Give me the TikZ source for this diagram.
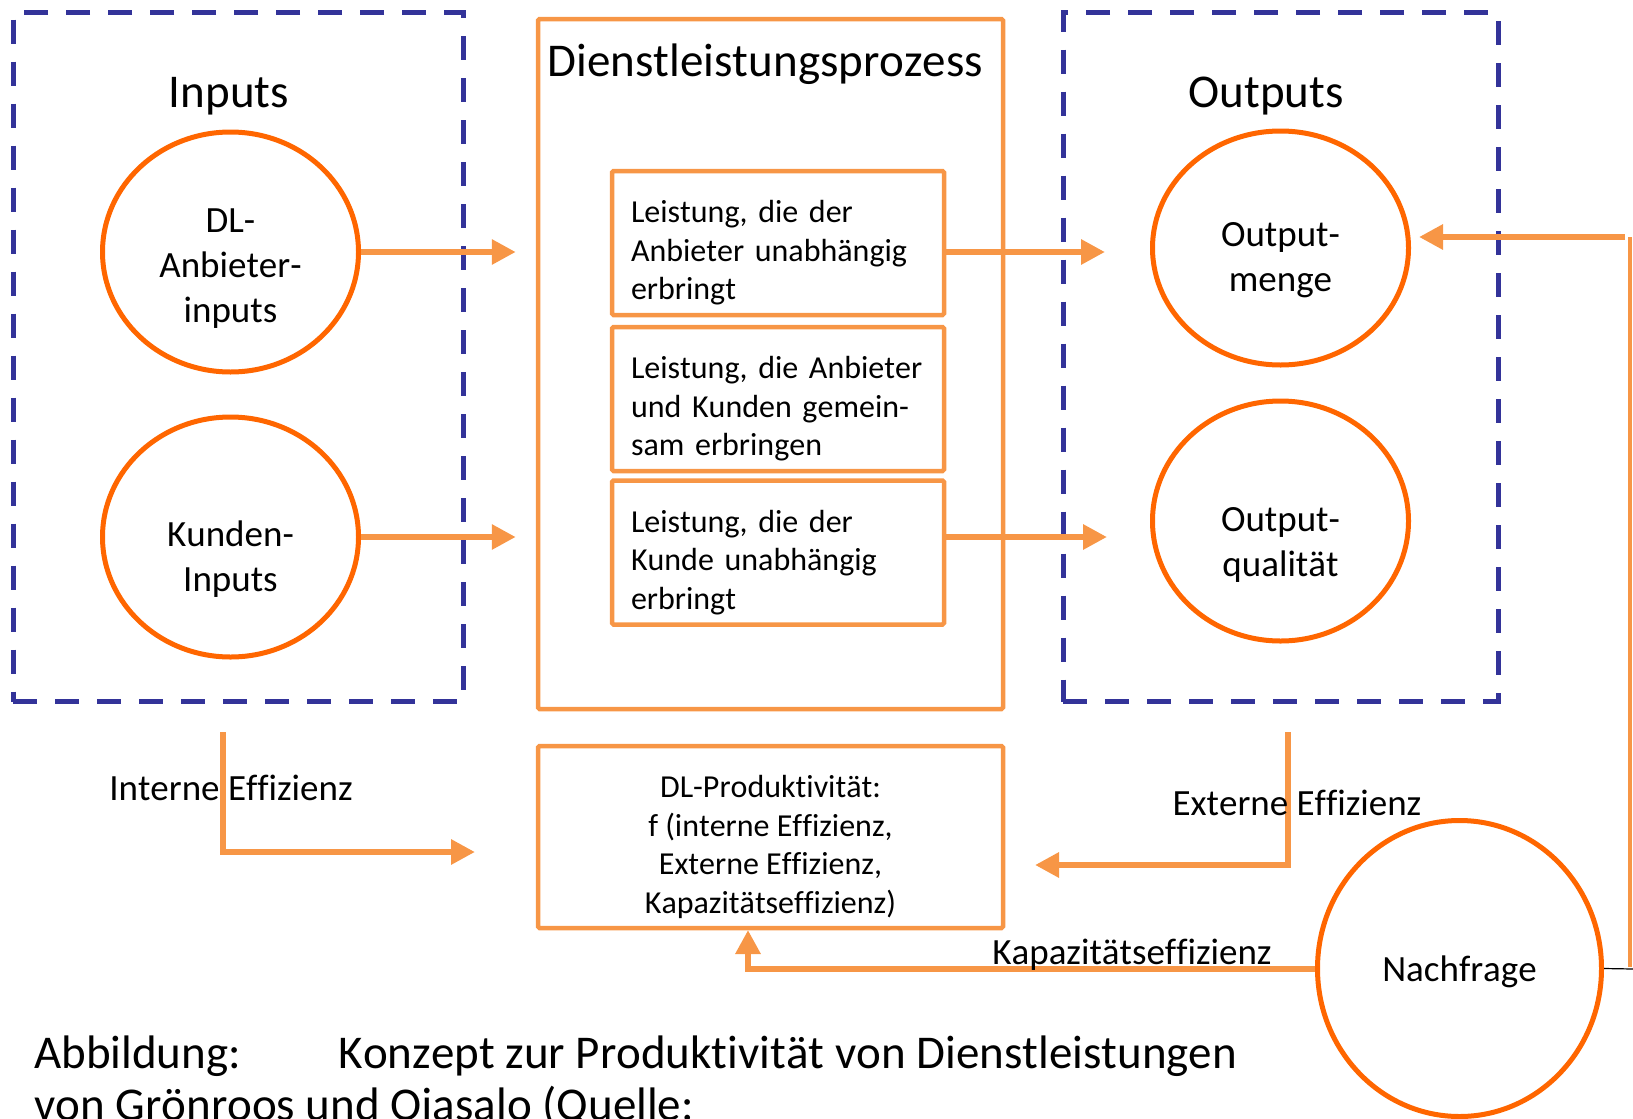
\documentclass[tikz,border=0pt]{standalone}
\usepackage{fontspec}
\setmainfont{Carlito}[Ligatures=NoCommon, Kerning=Off]
\frenchspacing
\usetikzlibrary{shapes.geometric,arrows.meta}
\definecolor{kreisorange}{RGB}{255,102,0}
\definecolor{rahmenorange}{RGB}{247,150,70}
\definecolor{gruppenblau}{RGB}{51,51,153}
\begin{document}
\begin{tikzpicture}[x=1pt,y=-1pt,
    gruppe/.style={draw=gruppenblau, line width=5pt, dash pattern=on 24pt off 18pt, inner sep=0pt, minimum height=689pt},
    kreis/.style={ellipse, draw=kreisorange, line width=5pt, minimum width=256pt, minimum height=240pt, inner sep=0pt},
    kreistext/.style={font=\fontsize{37}{45}\selectfont, align=center, inner sep=0pt},
    kasten/.style={draw=rahmenorange, line width=4.5pt, inner sep=0pt, rounded corners=1.5pt},
    leistung/.style={kasten, minimum width=332pt, minimum height=144pt},
    leistungstext/.style={font=\fontsize{32}{38.5}\selectfont, text width=294pt, align=left, inner sep=0pt},
    titel/.style={font=\fontsize{47}{57}\selectfont, anchor=base, inner sep=0pt},
    beschriftung/.style={font=\fontsize{37}{45}\selectfont, anchor=base, inner sep=0pt},
    pfeil/.style={draw=rahmenorange, line width=6pt, -{Triangle[length=24pt,width=24pt]}}]
  \useasboundingbox (0,0) rectangle (1633,1119);
  \node[gruppe, minimum width=450pt] (inputs) at (238,357) {};
  \node[gruppe, minimum width=435pt] (outputs) at (1280.5,357) {};
  \node[kasten, minimum width=465pt, minimum height=690pt] (prozess) at (770.5,364) {};
  \node[titel] (inputstitel) at (229,107) {Inputs};
  \node[titel] (prozesstitel) at (765.5,76) {Dienstleistungsprozess};
  \node[titel] (outputstitel) at (1266,107) {Outputs};
  \node[kreis, label={[kreistext,yshift=-17pt]center:{DL-\\Anbieter-\\inputs}}] (dl) at (230.5,252) {};
  \node[kreis, label={[kreistext,yshift=-22pt]center:{Kunden-\\Inputs}}] (kunden) at (230.5,537) {};
  \node[kreis, minimum height=234pt, label={[kreistext,yshift=-12pt]center:{Output-\\menge}}] (menge) at (1280.5,248) {};
  \node[kreis, label={[kreistext,yshift=-24pt]center:{Output-\\qualität}}] (qualitaet) at (1280.5,521) {};
  \node[leistung, label={[leistungstext,yshift=-10pt]center:{Leistung, die der\\Anbieter unabhängig\\erbringt}}] (box1) at (778,243) {};
  \node[leistung, label={[leistungstext,yshift=-10pt]center:{Leistung, die Anbieter\\und Kunden gemein-\\sam erbringen}}] (box2) at (778,399) {};
  \node[leistung, label={[leistungstext,yshift=-10pt]center:{Leistung, die der\\Kunde unabhängig\\erbringt}}] (box3) at (778,552.5) {};
  \node[kasten, minimum width=465pt, minimum height=182pt,
    label={[align=center, inner sep=0pt, font=\fontsize{32}{38.5}\selectfont, yshift=-10pt]center:{DL-Produktivität:\\f (interne Effizienz,\\Externe Effizienz,\\Kapazitätseffizienz)}}] (prod) at (770.5,837) {};
  \node[kreis, minimum width=284pt, minimum height=296pt,
    label={[kreistext,yshift=-3pt]center:Nachfrage}] (nachfrage) at (1459.5,968.5) {};

  \draw[pfeil, shorten >=20pt] (dl.east) -- (dl.east -| prozess.west);
  \draw[pfeil, shorten >=20pt] (kunden.east) -- (kunden.east -| prozess.west);
  \draw[pfeil, shorten >=45pt] (box1.east |- dl.east) -- (menge.west |- dl.east);
  \draw[pfeil, shorten >=43pt] (box3.east |- kunden.east) -- (qualitaet.west |- kunden.east);

  \coordinate (intstart) at (222.5,732);
  \coordinate (intende) at (475,852);
  \coordinate (extstart) at (1288,732);
  \coordinate (extende) at (1035,865);
  \coordinate (kapende) at (748,930);
  \coordinate (rechtsunten) at (1630,967);
  \coordinate (rechtsoben) at (1630,237);
  \coordinate (rueckstart) at (1625,237);
  \coordinate (randrechts) at (1633,969);
  \draw[pfeil] (intstart) |- (intende);
  \draw[pfeil] (extstart) |- (extende);
  \draw[pfeil] (nachfrage.west) -| (kapende);
  \draw[draw=rahmenorange, line width=3.5pt] (rechtsunten) -- (rechtsoben);
  \draw[pfeil, shorten >=8pt] (rueckstart) -- (rueckstart -| menge.east);
  \draw[line width=1.2pt] (nachfrage.east) -- (randrechts);

  \node[beschriftung] (intern) at (231,800) {Interne Effizienz};
  \node[beschriftung] (extern) at (1297,815) {Externe Effizienz};
  \node[beschriftung] (kapazitaet) at (1132,964) {Kapazitätseffizienz};

  \node[anchor=base west, inner sep=0pt, font=\fontsize{47}{52}\selectfont] (caption1) at (34,1068)
    {\makebox[304.5pt][l]{Abbildung:}Konzept zur Produktivität von Dienstleistungen};
  \node[anchor=base west, inner sep=0pt, font=\fontsize{47}{52}\selectfont] (caption2) at (34,1120)
    {von Grönroos und Ojasalo (Quelle:};
\end{tikzpicture}
\end{document}
